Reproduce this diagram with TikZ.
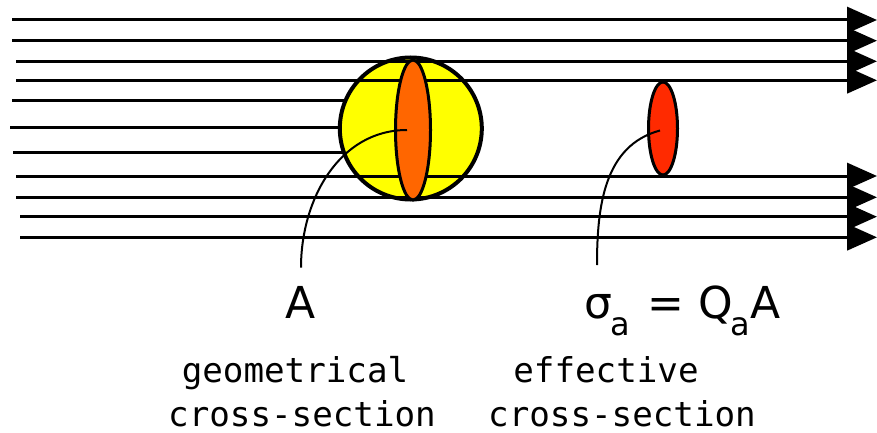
\documentclass[tikz,border=0pt]{standalone}
\usepackage{fontspec}
\usepackage{xcolor}
\usepackage{tikz}
\usetikzlibrary{positioning,arrows.meta,shapes.geometric}
\newfontfamily\cxsans{DejaVu Sans}
\newfontfamily\cxmono{DejaVu Sans Mono}
\definecolor{SphereYellow}{HTML}{FFFF00}
\definecolor{GeoOrange}{HTML}{FF6600}
\definecolor{EffRed}{HTML}{FF2A00}
\newcommand{\subA}{\raisebox{-8.5pt}{\fontsize{16}{16}\selectfont a}}

\begin{document}
\begin{tikzpicture}[x=0.5pt, y=-0.5pt,
    ray/.style={line width=1.5pt},
    beam/.style={ray, -{Triangle[length=15pt,width=13pt]}},
    callout/.style={line width=1pt},
    capmono/.style={font=\cxmono\fontsize{17.1}{20}\selectfont, anchor=base, inner sep=0pt}]
    \useasboundingbox (0,0) rectangle (877,433);
    % absorbed rays stop at the particle
    \foreach \x/\y in {12/100.7, 10/127.3, 13/152.3} {
      \draw[ray] (\x,\y) -- (400,\y);
    }
    \node[circle, draw, line width=2pt, fill=SphereYellow,
      minimum size=71pt, inner sep=0pt] (sphere) at (410.8,128.5) {};
    % rays that go by
    \foreach \x/\y in {12/20, 12/40.7, 16/61.3, 16/80.3, 16/176, 16/197.3, 20/216.7, 20/237.3} {
      \draw[beam] (\x,\y) -- (877,\y);
    }
    \node[ellipse, draw, line width=1.5pt, fill=GeoOrange,
      minimum width=17.5pt, minimum height=70pt, inner sep=0pt] (geo) at (413,130) {};
    \node[ellipse, draw, line width=1.5pt, fill=EffRed,
      minimum width=14.5pt, minimum height=46.5pt, inner sep=0pt] (eff) at (663,128.5) {};
    % labels
    \node[font=\cxsans\fontsize{22}{26}\selectfont, anchor=base, inner sep=9pt] (areaA) at (301,318) {A};
    \node[font=\cxsans\fontsize{22}{26}\selectfont, anchor=base west, inner sep=0pt] (sigma) at (584,318)
      {σ\kern-1pt\subA\hspace{9pt}=\hspace{7pt}Q\kern-1.5pt\subA A};
    \node[capmono] (geoname) at (295,382) {geometrical};
    \node[capmono] (geocross) at (302,426) {cross-section};
    \node[capmono] (effname) at (606,382) {effective};
    \node[capmono] (effcross) at (622,426) {cross-section};
    \coordinate (sigtop) at (597,265);
    \draw[callout] ([xshift=-3pt]geo.center) to[out=180, in=90] (areaA.north);
    \draw[callout] ([xshift=-1.5pt,yshift=-1pt]eff.center) to[out=195, in=90] (sigtop);
  \end{tikzpicture}
\end{document}
